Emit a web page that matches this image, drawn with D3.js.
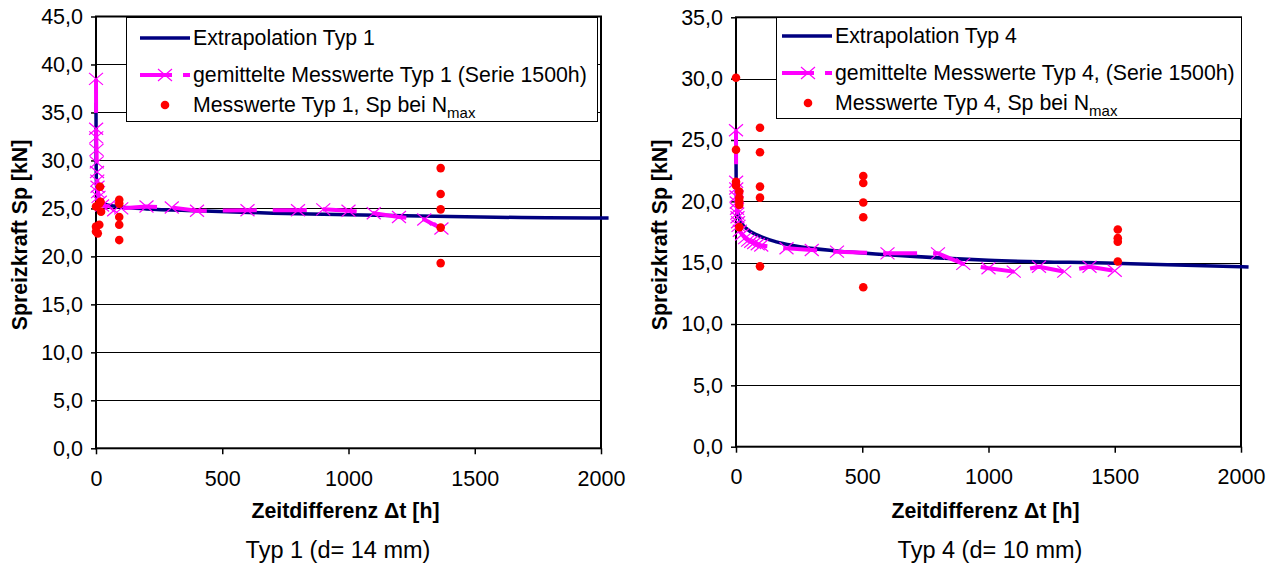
<!DOCTYPE html>
<html>
<head>
<meta charset="utf-8">
<script src="https://cdn.jsdelivr.net/npm/d3@7"></script>
<style>
  body { margin: 0; background: #fff; }
  svg { display: block; }
  text { font-family: "Liberation Sans", Arial, sans-serif; fill: #000; }
</style>
</head>
<body>
<svg id="chart" width="1277" height="565"></svg>
<script>
// ---- shared axis ticks ----
const xTicks = [0, 500, 1000, 1500, 2000];
const yTicksTyp1 = [0, 5, 10, 15, 20, 25, 30, 35, 40, 45];
const yTicksTyp4 = [0, 5, 10, 15, 20, 25, 30, 35];

// ---- Typ 1 (d = 14 mm) ----
const extTyp1T = [0, 0.5, 2, 5, 10, 20, 40, 70, 100, 200, 400, 700, 1000, 1400, 2000, 2030];
const extTyp1V = [36.0, 30.0, 27.5, 26.6, 26.1, 25.7, 25.4, 25.25, 25.15, 24.95, 24.75, 24.5, 24.35, 24.15, 24.0, 24.0];

const meanTyp1T = [0, 0.5, 1, 2, 3, 4, 5, 6, 8, 10, 15, 24, 48, 72, 100, 200, 300, 400, 600, 800, 900, 1000, 1100, 1200, 1300, 1368];
const meanTyp1V = [38.5, 33.3, 32.4, 31.1, 29.8, 28.8, 27.9, 27.25, 26.7, 26.2, 25.7, 25.3, 25.2, 24.8, 25.0, 25.2, 25.1, 24.75, 24.8, 24.8, 24.9, 24.75, 24.5, 24.1, 23.85, 22.9];

const ptsTyp1T = [16, 18, 13, 0, 20, 0, 13, 0, 7, 92, 92, 92, 92, 92, 1365, 1365, 1365, 1365, 1365];
const ptsTyp1V = [27.25, 25.7, 25.5, 25.2, 24.65, 23.1, 23.3, 22.6, 22.4, 25.9, 25.5, 24.1, 23.3, 21.7, 29.2, 26.5, 24.9, 23.0, 19.3];

// ---- Typ 4 (d = 10 mm) ----
const extTyp4T = [0, 0.5, 2, 5, 10, 20, 40, 90, 160, 225, 400, 600, 1000, 1500, 2000, 2030];
const extTyp4V = [24.0, 22.0, 20.3, 19.4, 18.8, 18.3, 17.8, 17.2, 16.7, 16.4, 15.95, 15.65, 15.2, 14.95, 14.67, 14.65];

const meanTyp4T = [0, 0.5, 1, 2, 3, 4, 5, 6, 8, 10, 15, 24, 36, 48, 60, 72, 86, 100, 200, 300, 400, 600, 800, 900, 1000, 1100, 1200, 1300, 1400, 1500];
const meanTyp4V = [25.8, 21.6, 21.05, 20.4, 19.9, 19.4, 19.0, 18.7, 18.3, 18.0, 17.6, 17.3, 17.0, 16.8, 16.7, 16.6, 16.5, 16.4, 16.17, 16.03, 15.9, 15.76, 15.76, 14.9, 14.54, 14.27, 14.67, 14.27, 14.67, 14.34];

const ptsTyp4T = [0, 0, 0, 0, 13, 13, 13, 13, 13, 95, 95, 95, 95, 95, 504, 504, 504, 504, 504, 1512, 1512, 1512, 1512];
const ptsTyp4V = [30.07, 24.2, 21.6, 21.3, 20.8, 20.3, 20.0, 19.7, 17.9, 26.0, 24.0, 21.2, 20.3, 14.7, 22.06, 21.5, 19.9, 18.7, 13.0, 17.7, 17.0, 16.7, 15.1];

// ---- styling ----
const NAVY = "#000080";
const MAGENTA = "#ff00ff";
const RED = "#ff0000";
const FONT_TICK = 21.5;
const FONT_LEGEND = 21.3;
const FONT_TITLE = 21.3;
const FONT_CAPTION = 23.5;

const svg = d3.select("#chart");
const fmt = d => d3.format(".1f")(d).replace(".", ",");
const zip = (a, b) => a.map((v, i) => [v, b[i]]);

function crossPath(cx, cy, hw, hh) {
  return `M${cx - hw},${cy - hh}L${cx + hw},${cy + hh}M${cx - hw},${cy + hh}L${cx + hw},${cy - hh}`;
}

function drawPanel(p) {
  const g = svg.append("g");
  const x = d3.scaleLinear().domain([0, 2000]).range([p.left, p.right]);
  const y = d3.scaleLinear().domain([0, p.yMax]).range([p.bottom, p.top]);

  // horizontal gridlines
  g.append("g").selectAll("line")
    .data(p.yTicks.filter(v => v > 0 && v < p.yMax))
    .join("line")
    .attr("x1", p.left).attr("x2", p.right)
    .attr("y1", d => Math.round(y(d)) + 0.5).attr("y2", d => Math.round(y(d)) + 0.5)
    .attr("stroke", "#000").attr("stroke-width", 1);

  // y axis
  const ya = g.append("g").attr("transform", `translate(${p.left},0)`)
    .call(d3.axisLeft(y).tickValues(p.yTicks).tickSize(5).tickPadding(8).tickFormat(fmt));
  ya.select(".domain").remove();
  ya.selectAll("line").attr("stroke", "#000").attr("stroke-width", 1.5);
  ya.selectAll("text").style("font-size", FONT_TICK + "px").attr("font-family", null);

  // x axis
  const xa = g.append("g").attr("transform", `translate(0,${p.bottom})`)
    .call(d3.axisBottom(x).tickValues(xTicks).tickSize(6).tickPadding(16).tickFormat(d3.format("d")));
  xa.select(".domain").remove();
  xa.selectAll("line").attr("stroke", "#000").attr("stroke-width", 1.5);
  xa.selectAll("text").style("font-size", FONT_TICK + "px").attr("font-family", null);

  // plot frame
  g.append("rect")
    .attr("x", p.left).attr("y", p.top)
    .attr("width", p.right - p.left).attr("height", p.bottom - p.top)
    .attr("fill", "none").attr("stroke", "#000").attr("stroke-width", 2);

  // extrapolation curve
  g.append("path")
    .datum(zip(p.extT, p.extV))
    .attr("d", d3.line().x(d => x(d[0])).y(d => y(d[1])).curve(d3.curveMonotoneX))
    .attr("fill", "none").attr("stroke", NAVY).attr("stroke-width", 3.5);

  // averaged measurements (long dash line + cross markers)
  const mean = zip(p.meanT, p.meanV);
  g.append("path")
    .datum(mean)
    .attr("d", d3.line().x(d => x(d[0])).y(d => y(d[1])))
    .attr("fill", "none").attr("stroke", MAGENTA).attr("stroke-width", 4)
    .attr("stroke-linejoin", "round").attr("stroke-dasharray", "34,16");
  g.append("g").selectAll("path")
    .data(mean)
    .join("path")
    .attr("d", d => crossPath(x(d[0]), y(d[1]), 7, 6))
    .attr("stroke", MAGENTA).attr("stroke-width", 1.2).attr("fill", "none");

  // individual measurements
  g.append("g").selectAll("circle")
    .data(zip(p.ptsT, p.ptsV))
    .join("circle")
    .attr("cx", d => x(d[0])).attr("cy", d => y(d[1])).attr("r", 4.3)
    .attr("fill", RED);

  // axis titles
  g.append("text")
    .attr("x", (p.left + p.right) / 2 - 3).attr("y", 518)
    .attr("text-anchor", "middle").style("font-size", FONT_TITLE + "px").style("font-weight", "bold")
    .text("Zeitdifferenz \u0394t [h]");
  g.append("text")
    .attr("transform", `translate(${p.yTitleX},235) rotate(-90)`)
    .attr("text-anchor", "middle").style("font-size", FONT_TITLE + "px").style("font-weight", "bold")
    .text("Spreizkraft Sp [kN]");

  // caption
  g.append("text")
    .attr("x", p.captionX).attr("y", 558)
    .attr("text-anchor", "middle").style("font-size", FONT_CAPTION + "px")
    .text(p.caption);

  // legend
  const L = p.legend;
  const lg = g.append("g");
  lg.append("rect")
    .attr("x", L.x0 + 0.5).attr("y", L.y0 + 0.5)
    .attr("width", L.x1 - L.x0).attr("height", L.y1 - L.y0)
    .attr("fill", "#fff").attr("stroke", "#000").attr("stroke-width", 1);
  const rows = L.rows;
  lg.append("line")
    .attr("x1", L.sx0).attr("x2", L.sx1).attr("y1", rows[0]).attr("y2", rows[0])
    .attr("stroke", NAVY).attr("stroke-width", 3.5);
  lg.append("line")
    .attr("x1", L.sx0).attr("x2", L.sx1).attr("y1", rows[1]).attr("y2", rows[1])
    .attr("stroke", MAGENTA).attr("stroke-width", 4).attr("stroke-dasharray", "32,11");
  lg.append("path")
    .attr("d", crossPath(L.mx, rows[1], 7, 6))
    .attr("stroke", MAGENTA).attr("stroke-width", 1.2).attr("fill", "none");
  lg.append("circle").attr("cx", L.mx).attr("cy", rows[2]).attr("r", 4.3).attr("fill", RED);

  L.labels.forEach((lab, i) => {
    const t = lg.append("text")
      .attr("x", L.tx).attr("y", rows[i] + 7)
      .style("font-size", FONT_LEGEND + "px");
    t.append("tspan").text(lab);
    if (i === 2) {
      t.append("tspan").attr("dy", 6).style("font-size", "15px").text("max");
    }
  });
}

drawPanel({
  left: 96, right: 601, top: 16.5, bottom: 448.3, yMax: 45, yTicks: yTicksTyp1,
  extT: extTyp1T, extV: extTyp1V, meanT: meanTyp1T, meanV: meanTyp1V, ptsT: ptsTyp1T, ptsV: ptsTyp1V,
  yTitleX: 27, captionX: 338, caption: "Typ 1 (d= 14 mm)",
  legend: {
    x0: 126, x1: 597, y0: 17, y1: 121, rows: [38, 75, 105], sx0: 140, sx1: 190, mx: 165, tx: 193,
    labels: ["Extrapolation Typ 1", "gemittelte Messwerte Typ 1 (Serie 1500h)", "Messwerte Typ 1, Sp bei N"]
  }
});

drawPanel({
  left: 736, right: 1241, top: 17.3, bottom: 446.7, yMax: 35, yTicks: yTicksTyp4,
  extT: extTyp4T, extV: extTyp4V, meanT: meanTyp4T, meanV: meanTyp4V, ptsT: ptsTyp4T, ptsV: ptsTyp4V,
  yTitleX: 667, captionX: 990, caption: "Typ 4 (d= 10 mm)",
  legend: {
    x0: 776, x1: 1241, y0: 17, y1: 118, rows: [36, 73, 103], sx0: 782, sx1: 832, mx: 808, tx: 835,
    labels: ["Extrapolation Typ 4", "gemittelte Messwerte Typ 4, (Serie 1500h)", "Messwerte Typ 4, Sp bei N"]
  }
});
</script>
</body>
</html>
